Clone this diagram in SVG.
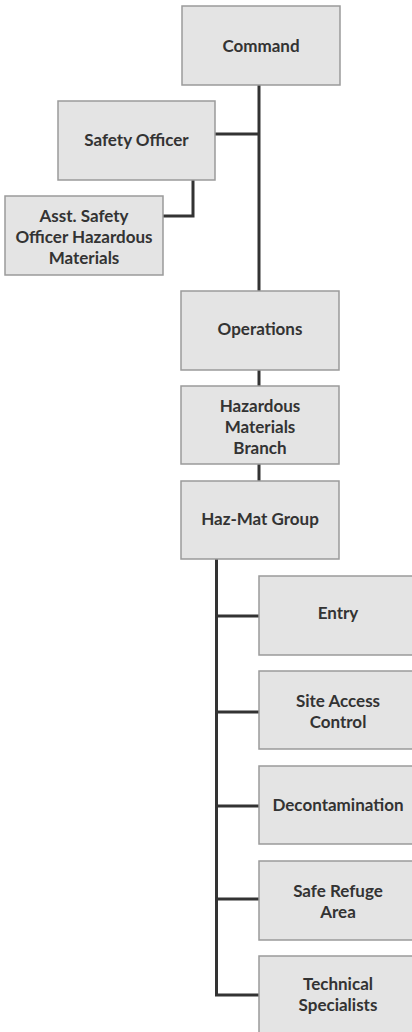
<svg xmlns="http://www.w3.org/2000/svg" width="412" height="1032" viewBox="0 0 412 1032">
<style>
.box{fill:#e4e4e4;stroke:#9a9a9a;stroke-width:1.5}
.lbl{font-family:Lato,"Open Sans","Liberation Sans",sans-serif;font-weight:bold;font-size:17px;fill:#333;text-anchor:middle}
.ln{fill:none;stroke:#333;stroke-width:3}
</style>
<rect width="412" height="1032" fill="#fff"/>
<g id="connectors">
<path class="ln" d="M259 85V291"/>
<path class="ln" d="M215 134H259"/>
<path class="ln" d="M193 180V216H163"/>
<path class="ln" d="M259 370V386"/>
<path class="ln" d="M259 464V481"/>
<path class="ln" d="M216.5 559V995"/>
<path class="ln" d="M215 616H259M215 712H259M215 806H259M215 899H259M215 995H259"/>
</g>
<g id="command"><rect class="box" x="182" y="6" width="158" height="79"/><text class="lbl" x="261" y="52">Command</text></g>
<g id="safety"><rect class="box" x="58" y="101" width="157" height="79"/><text class="lbl" x="136.5" y="146">Safety Officer</text></g>
<g id="asst"><rect class="box" x="5" y="196" width="158" height="79"/><text class="lbl" x="84" y="222">Asst. Safety<tspan x="84" dy="21">Officer Hazardous</tspan><tspan x="84" dy="21">Materials</tspan></text></g>
<g id="operations"><rect class="box" x="181" y="291" width="158" height="79"/><text class="lbl" x="260" y="335">Operations</text></g>
<g id="hmb"><rect class="box" x="181" y="386" width="158" height="78"/><text class="lbl" x="260" y="412">Hazardous<tspan x="260" dy="21">Materials</tspan><tspan x="260" dy="21">Branch</tspan></text></g>
<g id="hazmat"><rect class="box" x="181" y="481" width="158" height="78"/><text class="lbl" x="260" y="525">Haz-Mat Group</text></g>
<g id="entry"><rect class="box" x="259" y="576" width="158" height="79"/><text class="lbl" x="338" y="619">Entry</text></g>
<g id="site"><rect class="box" x="259" y="671" width="158" height="78"/><text class="lbl" x="338" y="707">Site Access<tspan x="338" dy="21">Control</tspan></text></g>
<g id="decon"><rect class="box" x="259" y="766" width="158" height="78"/><text class="lbl" x="338" y="811">Decontamination</text></g>
<g id="refuge"><rect class="box" x="259" y="861" width="158" height="79"/><text class="lbl" x="338" y="897">Safe Refuge<tspan x="338" dy="21">Area</tspan></text></g>
<g id="tech"><rect class="box" x="259" y="956" width="158" height="79"/><text class="lbl" x="338" y="990">Technical<tspan x="338" dy="21">Specialists</tspan></text></g>
</svg>
